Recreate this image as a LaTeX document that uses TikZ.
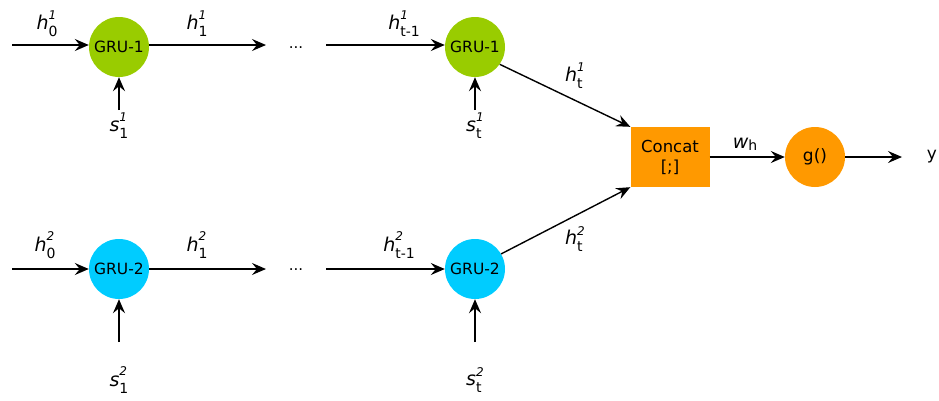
\documentclass[tikz,border=0pt]{standalone}
\usepackage{fontspec}
\setmainfont{DejaVu Sans}
\usetikzlibrary{arrows.meta}
\definecolor{grn}{HTML}{99CC00}
\definecolor{blu}{HTML}{00CCFF}
\definecolor{org}{HTML}{FF9900}
\newcommand\lbl[3]{{\fontsize{19}{19}\selectfont\textit{#1}}\raisebox{-7pt}{\shortstack[l]{{\fontsize{12}{12}\selectfont\textit{#2}}\\[4pt]{\fontsize{14}{14}\selectfont #3}}}}
\begin{document}
\begin{tikzpicture}[x=1pt,y=-1pt,
  cell/.style={circle,minimum size=60pt,inner sep=0pt,font=\fontsize{15.5}{15.5}\selectfont},
  arr/.style={-{Stealth[length=14pt,width=12pt,inset=5pt]},line width=1.4pt,black},
  lab/.style={inner sep=0pt,anchor=center},
  dots/.style={font=\fontsize{15}{15}\selectfont,inner sep=0pt}]
\useasboundingbox (0,0) rectangle (939,400);
% nodes
\node[cell,fill=grn] (g11) at (119,47) {GRU-1};
\node[cell,fill=grn] (g1t) at (475,47) {GRU-1};
\node[cell,fill=blu] (g21) at (119,269) {GRU-2};
\node[cell,fill=blu] (g2t) at (475,269) {GRU-2};
\node[rectangle,fill=org,minimum width=79pt,minimum height=60pt,inner sep=0pt,align=center,font=\fontsize{16.5}{20}\selectfont] (cc) at (670,157) {Concat\\\relax[;]};
\node[cell,fill=org,font=\fontsize{17}{17}\selectfont] (g) at (815,157) {g()};
\node[font=\fontsize{17}{17}\selectfont,inner sep=0pt] (y) at (932,157) {y};
\node[dots] (d1) at (296,48) {...};
\node[dots] (d2) at (296,270) {...};
% free ends
\coordinate (i1) at (12,45);
\coordinate (o1) at (266,45);
\coordinate (i1t) at (326,45);
\coordinate (s11) at (119,110);
\coordinate (s1t) at (475,110);
\coordinate (i2) at (12,269);
\coordinate (o2) at (266,269);
\coordinate (i2t) at (326,269);
\coordinate (s21) at (119,342);
\coordinate (s2t) at (475,342);
\coordinate (yo) at (902,157);
% connectors
\draw[arr] (i1) -- (g11.west|-i1);
\draw[arr] (g11.east|-o1) -- (o1);
\draw[arr] (i1t) -- (g1t.west|-i1t);
\draw[arr] (s11) -- (g11.south);
\draw[arr] (s1t) -- (g1t.south);
\draw[arr] (i2) -- (g21.west);
\draw[arr] (g21.east) -- (o2);
\draw[arr] (i2t) -- (g2t.west);
\draw[arr] (s21) -- (g21.south);
\draw[arr] (s2t) -- (g2t.south);
\draw[arr] (g1t.-35) -- (cc.north west);
\draw[arr] (g2t.30) -- (cc.south west);
\draw[arr] (cc.east) -- (g.west);
\draw[arr] (g.east) -- (yo);
% labels
\node[lab] (l1) at (47,24) {\lbl{h}{1}{0}};
\node[lab] (l2) at (197,24) {\lbl{h}{1}{1}};
\node[lab] (l3) at (404,24) {\lbl{h}{1}{t-1}};
\node[lab] (l4) at (119,126) {\lbl{s}{1}{1}};
\node[lab] (l5) at (475,126) {\lbl{s}{1}{t}};
\node[lab] (l6) at (575,76) {\lbl{h}{1}{t}};
\node[lab] (l7) at (45,245) {\lbl{h}{2}{0}};
\node[lab] (l8) at (197,245) {\lbl{h}{2}{1}};
\node[lab] (l9) at (399,245) {\lbl{h}{2}{t-1}};
\node[lab] (l10) at (119,380) {\lbl{s}{2}{1}};
\node[lab] (l11) at (475,380) {\lbl{s}{2}{t}};
\node[lab] (l12) at (575,239) {\lbl{h}{2}{t}};
\node[lab] (l13) at (745,144) {{\fontsize{19}{19}\selectfont\textit{w}}\raisebox{-0.3ex}{\fontsize{14}{14}\selectfont h}};
\end{tikzpicture}
\end{document}
